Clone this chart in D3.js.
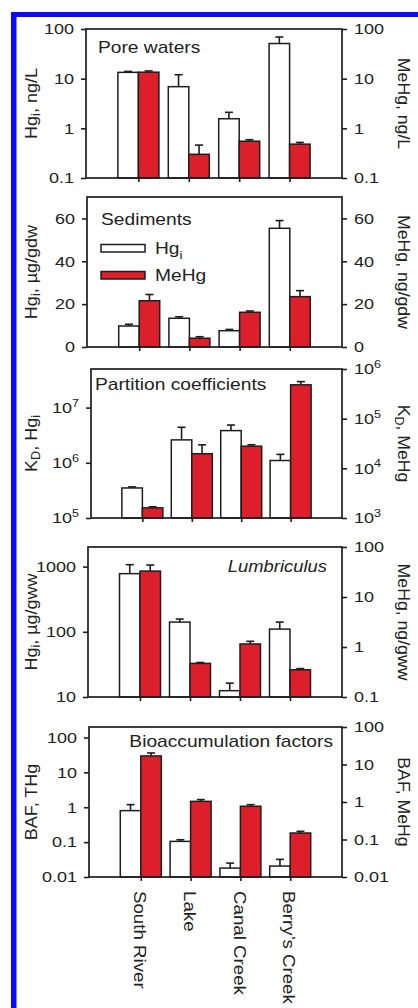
<!DOCTYPE html>
<html>
<head>
<meta charset="utf-8">
<script src="https://cdn.jsdelivr.net/npm/d3@7"></script>
<style>
  body { margin: 0; background: #fff; }
  text { font-family: "Liberation Sans", Arial, sans-serif; fill: #222; }
</style>
</head>
<body>
<div id="chart"></div>
<script>
// sites along the x axis
var sites = ["South River", "Lake", "Canal Creek", "Berry\u2019s Creek"];

// pore waters (ng/L)
var poreHgi = [13.4, 6.9, 1.56, 51];
var poreHgiErr = [0.6, 5.1, 0.54, 18];
var poreMeHg = [13.5, 0.30, 0.55, 0.48];
var poreMeHgErr = [0.8, 0.16, 0.04, 0.04];

// sediments (ug/gdw and ng/gdw)
var sedHgi = [9.8, 13.4, 7.6, 55.4];
var sedHgiErr = [0.8, 0.7, 0.6, 3.6];
var sedMeHg = [21.6, 4.1, 16.2, 23.5];
var sedMeHgErr = [2.9, 0.7, 0.6, 2.8];

// partition coefficients
var kdHgi = [3.5e5, 2.6e6, 3.83e6, 1.1e6];
var kdHgiErr = [0.16e5, 1.8e6, 1.0e6, 0.32e6];
var kdMeHg = [1.6e3, 1.97e4, 2.79e4, 4.8e5];
var kdMeHgErr = [0.08e3, 1.0e4, 0.19e4, 0.77e5];

// Lumbriculus tissue
var lumHgi = [780, 141, 12.5, 110];
var lumHgiErr = [290, 16, 3.8, 31];
var lumMeHg = [33, 0.47, 1.15, 0.35];
var lumMeHgErr = [10.6, 0.02, 0.15, 0.02];

// bioaccumulation factors
var bafHgi = [0.80, 0.105, 0.018, 0.0206];
var bafHgiErr = [0.39, 0.012, 0.007, 0.0114];
var bafMeHg = [16.9, 1.04, 0.77, 0.149];
var bafMeHgErr = [3.4, 0.12, 0.08, 0.016];

// tick values
var poreTicks = [0.1, 1, 10, 100];
var sedTicks = [0, 20, 40, 60];
var kdHgiTicks = [1e5, 1e6, 1e7];
var kdMeHgTicks = [1e3, 1e4, 1e5, 1e6];
var lumHgiTicks = [10, 100, 1000];
var lumMeHgTicks = [0.1, 1, 10, 100];
var bafTicks = [0.01, 0.1, 1, 10, 100];

var width = 418;
var height = 1008;
var right = 342;
var red = "#dc1f2b";
var ink = "#1e1e1e";

var svg = d3.select("#chart")
            .append("svg")
            .attr("width", width)
            .attr("height", height);

// blue frame of the figure
svg.append("rect").attr("x", 11).attr("y", 12).attr("width", 5.5).attr("height", height - 12).attr("fill", "#0a0aff");
svg.append("rect").attr("x", 11).attr("y", 12).attr("width", width - 11).attr("height", 5).attr("fill", "#0a0aff");

var panels = [
    {top: 29, bottom: 178, left: 86, log: true, lDom: [0.1, 100], rDom: [0.1, 100],
     lTicks: poreTicks, rTicks: poreTicks, hgi: poreHgi, hgiErr: poreHgiErr, mehg: poreMeHg, mehgErr: poreMeHgErr,
     lTitle: [["Hg"], ["i", "sub"], [", ng/L"]], rTitle: [["MeHg, ng/L"]]},
    {top: 197, bottom: 347, left: 87, log: false, lDom: [0, 70], rDom: [0, 70],
     lTicks: sedTicks, rTicks: sedTicks, hgi: sedHgi, hgiErr: sedHgiErr, mehg: sedMeHg, mehgErr: sedMeHgErr,
     lTitle: [["Hg"], ["i", "sub"], [", \u00b5g/gdw"]], rTitle: [["MeHg, ng/gdw"]]},
    {top: 369, bottom: 518, left: 91, log: true, lDom: [1e5, 5e7], rDom: [1e3, 1e6], pow: true,
     lTicks: kdHgiTicks, rTicks: kdMeHgTicks, hgi: kdHgi, hgiErr: kdHgiErr, mehg: kdMeHg, mehgErr: kdMeHgErr,
     lTitle: [["K"], ["D", "sub"], [", Hg"], ["i", "sub"]], rTitle: [["K"], ["D", "sub"], [", MeHg"]]},
    {top: 547, bottom: 697, left: 88, log: true, lDom: [10, 2000], rDom: [0.1, 100],
     lTicks: lumHgiTicks, rTicks: lumMeHgTicks, hgi: lumHgi, hgiErr: lumHgiErr, mehg: lumMeHg, mehgErr: lumMeHgErr,
     lTitle: [["Hg"], ["i", "sub"], [", \u00b5g/gww"]], rTitle: [["MeHg, ng/gww"]]},
    {top: 727, bottom: 877, left: 89, log: true, lDom: [0.01, 200], rDom: [0.01, 100],
     lTicks: bafTicks, rTicks: bafTicks, hgi: bafHgi, hgiErr: bafHgiErr, mehg: bafMeHg, mehgErr: bafMeHgErr,
     lTitle: [["BAF, THg"]], rTitle: [["BAF, MeHg"]]}
];

// text with sub/superscript parts
function richText(sel, parts, size) {
    var shift = 0;
    parts.forEach(function(p) {
        var t = sel.append("tspan").text(p[0]);
        var target = 0;
        if (p[1] == "sub") { target = size * 0.3; t.attr("font-size", size * 0.7); }
        if (p[1] == "sup") { target = -size * 0.42; t.attr("font-size", size * 0.7); }
        if (target != shift) { t.attr("dy", target - shift); shift = target; }
    });
}

// the original lettering is wider than Arial, so stretch it a bit
function label(x, y, size, sx, rot) {
    return svg.append("text")
        .attr("font-size", size)
        .attr("transform", "translate(" + x + "," + y + ")" + (rot ? " rotate(" + rot + ")" : "") + " scale(" + sx + ",1)");
}

var fmt = d3.format("~g");
var bw = 20.5;
var tickFont = 15;
var tickSx = 1.2;

panels.forEach(function(p, k) {
    var g = svg.append("g");
    var x = d3.scalePoint().domain(sites).range([p.left, right]).padding(1.04);
    var yL = (p.log ? d3.scaleLog() : d3.scaleLinear()).domain(p.lDom).range([p.bottom, p.top]);
    var yR = (p.log ? d3.scaleLog() : d3.scaleLinear()).domain(p.rDom).range([p.bottom, p.top]);

    // bars: white Hgi on the left axis, red MeHg on the right axis
    var sets = [
        {vals: p.hgi, errs: p.hgiErr, y: yL, fill: "#fff", dx: -bw},
        {vals: p.mehg, errs: p.mehgErr, y: yR, fill: red, dx: 0}
    ];
    sets.forEach(function(s) {
        var bars = g.append("g");
        bars.selectAll("line.err")
            .data(s.vals)
            .enter()
            .append("line")
            .attr("x1", function(d, i) { return x(sites[i]) + s.dx + bw / 2; })
            .attr("x2", function(d, i) { return x(sites[i]) + s.dx + bw / 2; })
            .attr("y1", function(d) { return s.y(d); })
            .attr("y2", function(d, i) { return s.y(d + s.errs[i]); })
            .attr("stroke", ink).attr("stroke-width", 1.6);
        bars.selectAll("line.cap")
            .data(s.vals)
            .enter()
            .append("line")
            .attr("x1", function(d, i) { return x(sites[i]) + s.dx + bw / 2 - 4; })
            .attr("x2", function(d, i) { return x(sites[i]) + s.dx + bw / 2 + 4; })
            .attr("y1", function(d, i) { return s.y(d + s.errs[i]); })
            .attr("y2", function(d, i) { return s.y(d + s.errs[i]); })
            .attr("stroke", ink).attr("stroke-width", 1.6);
        bars.selectAll("rect")
            .data(s.vals)
            .enter()
            .append("rect")
            .attr("x", function(d, i) { return x(sites[i]) + s.dx; })
            .attr("y", function(d) { return s.y(d); })
            .attr("width", bw)
            .attr("height", function(d) { return p.bottom - s.y(d); })
            .attr("fill", s.fill)
            .attr("stroke", ink)
            .attr("stroke-width", 1.5);
    });

    // frame
    g.append("rect")
        .attr("x", p.left).attr("y", p.top)
        .attr("width", right - p.left).attr("height", p.bottom - p.top)
        .attr("fill", "none").attr("stroke", ink).attr("stroke-width", 1.7);

    var leftAxis = d3.axisLeft(yL).tickValues(p.lTicks).tickSize(5).tickSizeOuter(0).tickPadding(7);
    var rightAxis = d3.axisRight(yR).tickValues(p.rTicks).tickSize(5).tickSizeOuter(0).tickPadding(7);
    if (!p.pow) { leftAxis.tickFormat(fmt); rightAxis.tickFormat(fmt); }
    else { leftAxis.tickFormat(""); rightAxis.tickFormat(""); }

    var gl = g.append("g").attr("transform", "translate(" + p.left + ",0)").call(leftAxis);
    var gr = g.append("g").attr("transform", "translate(" + right + ",0)").call(rightAxis);
    [[gl, -12], [gr, 12]].forEach(function(a) {
        a[0].select(".domain").remove();
        a[0].selectAll("line").attr("stroke", ink).attr("stroke-width", 1.6);
        a[0].selectAll("text")
            .attr("x", 0)
            .attr("transform", "translate(" + a[1] + ",0) scale(" + tickSx + ",1)")
            .attr("font-size", tickFont)
            .attr("font-family", "Liberation Sans, Arial, sans-serif")
            .attr("fill", "#222");
    });

    // powers of ten for the partition coefficients
    if (p.pow) {
        [gl, gr].forEach(function(a) {
            a.selectAll(".tick text").each(function(d) {
                richText(d3.select(this), [["10"], [String(Math.round(Math.log10(d))), "sup"]], tickFont);
            });
        });
    }

    // category ticks on the bottom edge
    var xAxis = d3.axisBottom(x).tickSize(4).tickSizeOuter(0).tickFormat("");
    var gb = g.append("g").attr("transform", "translate(0," + p.bottom + ")").call(xAxis);
    gb.select(".domain").remove();
    gb.selectAll("line").attr("stroke", ink).attr("stroke-width", 1.6);

    // axis titles
    var mid = (p.top + p.bottom) / 2;
    var lt = label(31, mid, 17, 1.06, -90)
        .attr("text-anchor", "middle")
        .attr("dominant-baseline", "central");
    richText(lt, p.lTitle, 17);
    var rt = label(404, mid, 17, 1.04, 90)
        .attr("text-anchor", "middle")
        .attr("dominant-baseline", "central");
    richText(rt, p.rTitle, 17);

    // site names under the last panel
    if (k == panels.length - 1) {
        sites.forEach(function(d) {
            label(x(d) - 1, p.bottom + 14, 17, 1.1, 90)
                .attr("dominant-baseline", "central")
                .text(d);
        });
    }
});

// panel captions
label(98, 53, 16, 1.2).text("Pore waters");
label(101, 225, 16, 1.2).text("Sediments");
label(95, 390, 16, 1.2).text("Partition coefficients");
label(327, 572, 16, 1.15).attr("text-anchor", "end").attr("font-style", "italic").text("Lumbriculus");
label(333, 747, 16, 1.2).attr("text-anchor", "end").text("Bioaccumulation factors");

// legend in the sediments panel
var legend = [{fill: "#fff", label: [["Hg"], ["i", "sub"]]}, {fill: red, label: [["MeHg"]]}];
legend.forEach(function(l, i) {
    svg.append("rect")
        .attr("x", 101).attr("y", 244.5 + i * 27)
        .attr("width", 44).attr("height", 7.5)
        .attr("fill", l.fill).attr("stroke", ink).attr("stroke-width", 1.5);
    var t = label(155, 254 + i * 27, 16, 1.2);
    richText(t, l.label, 16);
});
</script>
</body>
</html>
